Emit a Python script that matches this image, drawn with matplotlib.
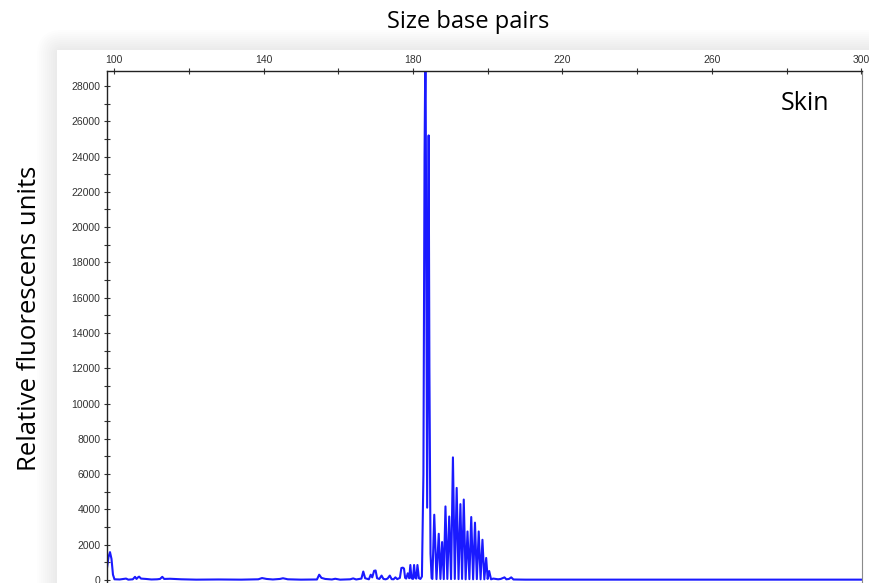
import numpy as np
import matplotlib.pyplot as plt
from matplotlib.patches import FancyBboxPatch, Rectangle

# trace: size (bp) and relative fluorescence units
size_bp = [98.1, 98.5, 98.9, 99.3, 99.7, 100.1, 101.5, 102.5, 103.2, 103.8,
           105.0, 105.6, 106.0, 106.4, 106.7, 107.2, 108.5, 110.0, 111.5, 112.3,
           112.9, 113.4, 115.0, 118.0, 122.0, 128.0, 134.0, 138.6, 139.6, 140.8,
           142.5, 144.4, 145.2, 146.5, 150.0, 154.3, 154.9, 155.5, 156.5, 158.3,
           159.2, 160.5, 163.2, 164.0, 164.8, 166.2, 166.7, 167.2, 168.2, 168.7,
           169.1, 169.6, 170.0, 170.4, 171.0, 171.6, 172.1, 172.7, 173.2, 173.8,
           174.3, 174.8, 175.3, 175.8, 176.5, 176.9, 177.3, 177.6, 177.9, 178.2,
           178.6, 179.0, 179.3, 179.6, 180.0, 180.3, 180.6, 180.9, 181.2, 181.6,
           182.0, 182.4, 182.8, 183.1, 183.35, 183.6, 183.8, 184.0, 184.2, 184.4,
           184.7, 185.0, 185.2, 185.7, 186.3, 186.9, 187.35, 187.8, 188.25, 188.7,
           189.2, 189.7, 190.2, 190.7, 191.2, 191.7, 192.2, 192.7, 193.15, 193.6,
           194.1, 194.6, 195.1, 195.6, 196.1, 196.6, 197.1, 197.6, 198.1, 198.6,
           199.1, 199.6, 200.0, 200.4, 200.9, 201.5, 202.8, 203.5, 204.5, 205.0,
           205.7, 206.3, 206.9, 210.0, 220.0, 230.0, 240.0, 250.0, 260.0, 270.0,
           280.0, 290.0, 300.2]
rfu = [680, 1300, 1580, 1200, 300, 40, 30, 60, 80, 20,
       40, 180, 60, 150, 190, 80, 60, 30, 40, 60,
       180, 60, 70, 40, 20, 30, 20, 40, 110, 60,
       30, 60, 100, 40, 20, 30, 300, 120, 60, 30,
       70, 20, 40, 90, 30, 80, 480, 100, 40, 300,
       150, 520, 540, 100, 60, 250, 60, 40, 80, 250,
       50, 40, 150, 50, 120, 680, 700, 650, 120, 80,
       380, 100, 850, 100, 60, 850, 120, 80, 850, 100,
       60, 200, 6000, 24000, 31000, 15000, 4100, 14000, 25200, 12000,
       1500, 100, 60, 3700, 50, 2620, 60, 2150, 50, 4170,
       60, 3600, 50, 6950, 60, 5220, 50, 4300, 60, 4560,
       40, 2750, 50, 3570, 40, 3250, 50, 2750, 40, 2280,
       40, 1250, 60, 510, 40, 80, 40, 60, 150, 40,
       60, 150, 30, 20, 20, 15, 20, 15, 20, 15,
       20, 15, 20]

x_ticks = list(range(100, 301, 20))
x_labels = [str(v) if (v - 100) % 40 == 0 else '' for v in x_ticks]
y_ticks = list(range(0, 28001, 1000))
y_labels = [str(v) if v % 2000 == 0 else '' for v in y_ticks]

fig = plt.figure(figsize=(8.69, 5.83), dpi=100)

# soft shadow behind the white panel
n = 10
for k in range(n):
    off = 0.2 * (k + 1) / n
    fig.patches.append(FancyBboxPatch(
        (0.57 - off, -1), 10, 6.33 + off,
        boxstyle='round,pad=0,rounding_size=%.3f' % (off + 0.05),
        fc='k', ec='none', alpha=0.008, transform=fig.dpi_scale_trans,
        zorder=-3))
fig.patches.append(Rectangle((0.57, -1), 10, 6.33, fc='white', ec='none',
                             transform=fig.dpi_scale_trans, zorder=-2))

ax = fig.add_axes([107 / 869, 0, (862 - 107) / 869, (583 - 71) / 583])
ax.set_facecolor('white')
ax.plot(size_bp, rfu, color='#1a1aff', lw=1.5)
ax.set_xlim(98.1, 300.2)
ax.set_ylim(-170, 28850)

ax.xaxis.tick_top()
ax.set_xticks(x_ticks)
ax.set_xticklabels(x_labels)
ax.set_yticks(y_ticks)
ax.set_yticklabels(y_labels)
ax.tick_params(axis='both', direction='inout', length=5, width=0.8,
               labelsize=7.5, labelcolor='#333333', color='#333333',
               labelfontfamily='Liberation Sans')
ax.tick_params(axis='x', pad=1.5)
ax.tick_params(axis='y', pad=2.2)
for side in ['top', 'left']:
    ax.spines[side].set_color('#222222')
    ax.spines[side].set_linewidth(1.0)
ax.spines['right'].set_color('#8a8a8a')
ax.spines['bottom'].set_color('#9a9a9a')

fig.text(468 / 869, 1 - 22 / 583, 'Size base pairs', ha='center', va='center',
         fontsize=17, family='Open Sans')
fig.text(30 / 869, 1 - 318 / 583, 'Relative fluorescens units', ha='center',
         va='center', rotation=90, fontsize=18.5, family='Open Sans')
fig.text(805 / 869, 1 - 104 / 583, 'Skin', ha='center', va='center',
         fontsize=18, family='Open Sans')

fig.savefig('out.png', dpi=100)
